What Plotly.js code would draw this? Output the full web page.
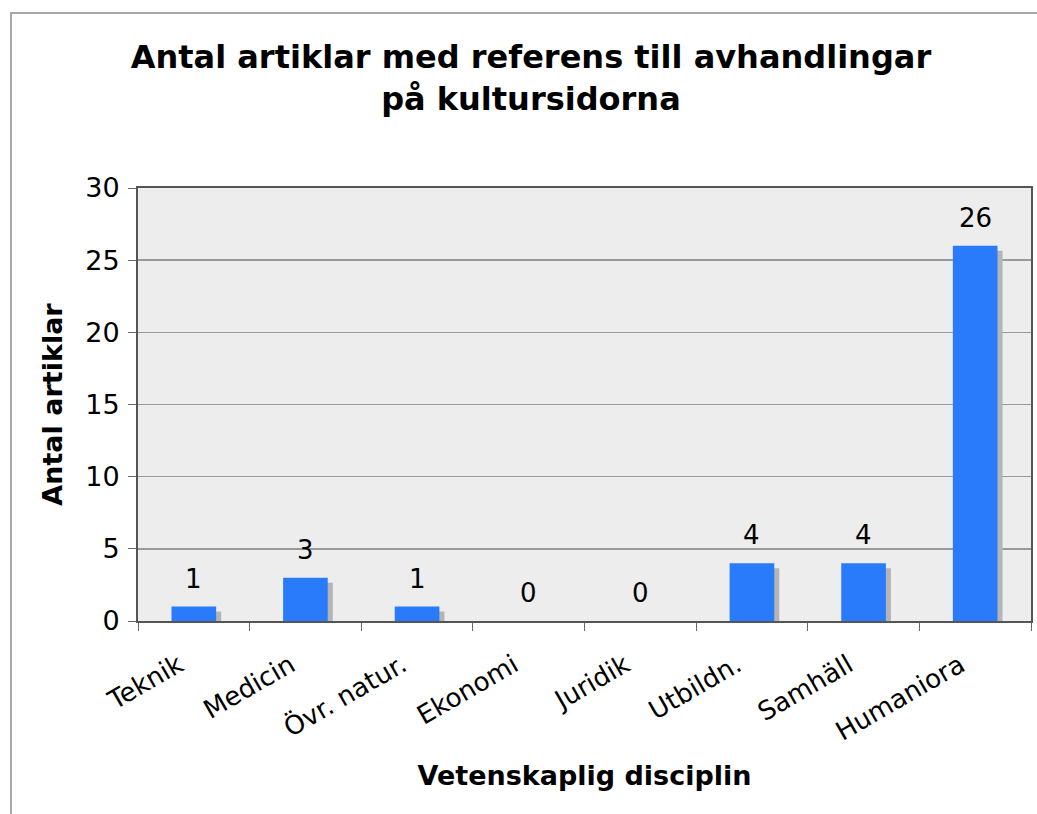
<!DOCTYPE html>
<html>
<head>
<meta charset="utf-8">
<script src="https://cdn.plot.ly/plotly-3.0.1.min.js"></script>
<style>
  html, body { margin: 0; padding: 0; background: #ffffff; overflow: hidden; }
  #wrap { position: relative; width: 1037px; height: 814px; }
  #frame { position: absolute; left: 10px; top: 12px; width: 1100px; height: 900px;
           border: 2px solid #a8a8a8; box-sizing: border-box; }
  #chart { position: absolute; left: 0; top: 0; width: 1037px; height: 814px; }
</style>
</head>
<body>
<div id="wrap">
  <div id="frame"></div>
  <div id="chart"></div>
</div>
<script>
const categories = ["Teknik", "Medicin", "Övr. natur.", "Ekonomi", "Juridik", "Utbildn.", "Samhäll", "Humaniora"];
const counts = [1, 3, 1, 0, 0, 4, 4, 26];
const yTicks = [0, 5, 10, 15, 20, 25, 30];

const FONT = "DejaVu Sans, Verdana, sans-serif";
const BAR_BLUE = "#2a7bfb";
const SHADOW = "#b4b4b4";
const SHADOW_DROP = 0.35;

const shadow = {
  type: "bar",
  x: categories,
  y: counts,
  base: counts.map(() => -SHADOW_DROP),
  width: 0.4,
  offset: -0.2 + 0.045,
  marker: { color: SHADOW, line: { width: 0 } },
  hoverinfo: "skip",
  showlegend: false
};

const bars = {
  type: "bar",
  x: categories,
  y: counts,
  width: 0.4,
  offset: -0.2,
  marker: { color: BAR_BLUE, line: { width: 0 } },
  showlegend: false
};

const labels = categories.map((c, i) => ({
  x: c, y: counts[i], xref: "x", yref: "y",
  text: String(counts[i]), showarrow: false,
  yanchor: "middle", yshift: 28,
  font: { family: FONT, size: 26, color: "#000000" }
}));

const layout = {
  width: 1037, height: 814,
  paper_bgcolor: "rgba(0,0,0,0)",
  plot_bgcolor: "#ededed",
  margin: { l: 138, r: 6, t: 188, b: 193 },
  barmode: "overlay",
  showlegend: false,
  title: {
    text: "Antal artiklar med referens till avhandlingar<br>på kultursidorna",
    font: { family: FONT, size: 32, color: "#000000", weight: "bold" },
    x: 0.512, xanchor: "center", y: 0.916, yanchor: "middle"
  },
  xaxis: {
    type: "category",
    range: [-0.5, categories.length - 0.5],
    tickangle: -30,
    tickfont: { family: FONT, size: 26, color: "#000000" },
    ticks: "outside", ticklen: 8, tickcolor: "#666666",
    tickson: "boundaries",
    ticklabelstandoff: 17,
    ticklabelshift: -15,
    showline: true, linecolor: "#555555", linewidth: 2,
    mirror: true,
    showgrid: false,
    title: { text: "Vetenskaplig disciplin", standoff: 21,
             font: { family: FONT, size: 27, color: "#000000", weight: "bold" } }
  },
  yaxis: {
    range: [0, 30],
    tickvals: yTicks,
    tickfont: { family: FONT, size: 27, color: "#000000" },
    ticks: "outside", ticklen: 8, tickcolor: "#666666",
    ticklabelstandoff: 3,
    showline: true, linecolor: "#555555", linewidth: 2,
    mirror: true,
    showgrid: true, gridcolor: "#999999", gridwidth: 1.5,
    zeroline: false,
    title: { text: "Antal artiklar", standoff: 15,
             font: { family: FONT, size: 27, color: "#000000", weight: "bold" } }
  },
  annotations: labels
};

Plotly.newPlot("chart", [shadow, bars], layout, { displayModeBar: false, staticPlot: true });
</script>
</body>
</html>
